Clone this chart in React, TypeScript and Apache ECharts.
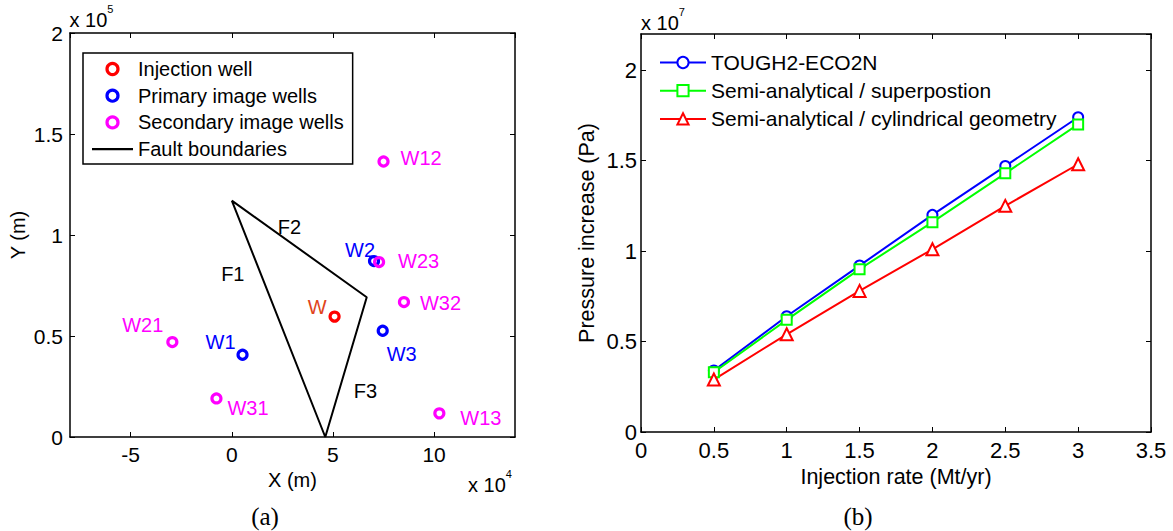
import React, { useEffect, useRef } from 'react';
import * as echarts from 'echarts';

const FONT = '"Liberation Sans", Arial, Helvetica, sans-serif';
const SERIF = '"Liberation Serif", "Times New Roman", serif';

// ---------- Panel (a): x in 1e4 m, y in 1e5 m ----------
const injectionWells: [string, number, number][] = [['W', 5.08, 0.596]];
const primaryImageWells: [string, number, number][] = [
  ['W1', 0.53, 0.407],
  ['W2', 7.03, 0.871],
  ['W3', 7.46, 0.526],
];
const secondaryImageWells: [string, number, number][] = [
  ['W12', 7.5, 1.364],
  ['W13', 10.26, 0.117],
  ['W21', -2.94, 0.47],
  ['W23', 7.28, 0.866],
  ['W31', -0.76, 0.191],
  ['W32', 8.51, 0.668],
];
const faultVertices: [number, number][] = [
  [0, 1.17],
  [6.67, 0.692],
  [4.62, 0],
  [0, 1.17],
];
const faultNames: [string, number, number][] = [
  ['F1', 0.05, 0.807],
  ['F2', 2.85, 1.04],
  ['F3', 6.61, 0.229],
];
const legendA = ['Injection well', 'Primary image wells', 'Secondary image wells', 'Fault boundaries'];

// ---------- Panel (b): pressure in 1e7 Pa ----------
const injectionRates = [0.5, 1, 1.5, 2, 2.5, 3];
const toughPressure = [0.34, 0.64, 0.92, 1.2, 1.47, 1.74];
const superpositionPressure = [0.33, 0.62, 0.9, 1.16, 1.43, 1.7];
const cylindricalPressure = [0.29, 0.54, 0.78, 1.01, 1.25, 1.48];
const legendB = [
  'TOUGH2-ECO2N',
  'Semi-analytical / superpostion',
  'Semi-analytical / cylindrical geometry',
];

// label placement (style only)
const wellLabelPlacement: Record<string, { align: 'left' | 'right'; dx: number; dy: number }> = {
  W: { align: 'right', dx: -8, dy: -10 },
  W1: { align: 'right', dx: -7, dy: -13 },
  W2: { align: 'right', dx: 1, dy: -11 },
  W3: { align: 'left', dx: 4, dy: 23 },
  W12: { align: 'left', dx: 17, dy: -3 },
  W13: { align: 'left', dx: 21, dy: 5 },
  W21: { align: 'right', dx: -9, dy: -17 },
  W23: { align: 'left', dx: 19, dy: -1 },
  W31: { align: 'left', dx: 11, dy: 10 },
  W32: { align: 'left', dx: 16, dy: 1 },
};

const RED = '#ff0000';
const BLUE = '#0000ff';
const MAGENTA = '#ff00ff';
const GREEN = '#00ff00';
const W_TEXT = '#e0441c';

function wellData(list: [string, number, number][], textColor: string) {
  return list.map(([name, x, y]) => {
    const p = wellLabelPlacement[name];
    return {
      name,
      value: [x, y],
      label: {
        show: true,
        formatter: name,
        position: 'inside',
        align: p.align,
        verticalAlign: 'middle',
        offset: [p.dx, p.dy],
        color: textColor,
        fontSize: 20,
        fontFamily: FONT,
      },
    };
  });
}

const ringStyle = (c: string) => ({ color: 'rgba(0,0,0,0)', borderColor: c, borderWidth: 3.2, opacity: 1 });

const axisLine = { show: true, onZero: false, lineStyle: { color: '#000', width: 1.5 } };
const axisTick = { show: true, inside: true, length: 5, lineStyle: { color: '#000', width: 1 } };
const labelTextA = { color: '#000', fontSize: 21, fontFamily: FONT };
const labelTextB = { color: '#000', fontSize: 22, fontFamily: FONT };
const nameTextA = { color: '#000', fontSize: 20, fontFamily: FONT };
const nameTextB = { color: '#000', fontSize: 21.5, fontFamily: FONT };

const supRich = {
  b: { fontSize: 20, fontFamily: FONT, lineHeight: 34, fill: '#000' },
  s: { fontSize: 11, fontFamily: FONT, verticalAlign: 'top', fill: '#000' },
};

function buildOption(): any {
  return {
    animation: false,
    backgroundColor: '#fff',
    grid: [
      { left: 70, top: 33, width: 445, height: 404 },
      { left: 641, top: 34, width: 510, height: 398 },
    ],
    xAxis: [
      {
        gridIndex: 0, type: 'value', min: -8, max: 14, splitNumber: 5, position: 'bottom',
        axisLine, axisTick, splitLine: { show: false },
        axisLabel: { ...labelTextA, margin: 7, showMinLabel: false, showMaxLabel: false },
        name: 'X (m)', nameLocation: 'middle', nameGap: 30, nameTextStyle: nameTextA,
      },
      {
        gridIndex: 0, type: 'value', min: -8, max: 14, splitNumber: 5, position: 'top',
        axisLine, axisTick, splitLine: { show: false }, axisLabel: { show: false },
      },
      {
        gridIndex: 1, type: 'value', min: 0, max: 3.5, interval: 0.5, position: 'bottom',
        axisLine, axisTick, splitLine: { show: false },
        axisLabel: { ...labelTextB, margin: 7 },
        name: 'Injection rate (Mt/yr)', nameLocation: 'middle', nameGap: 32, nameTextStyle: nameTextB,
      },
      {
        gridIndex: 1, type: 'value', min: 0, max: 3.5, interval: 0.5, position: 'top',
        axisLine, axisTick, splitLine: { show: false }, axisLabel: { show: false },
      },
    ],
    yAxis: [
      {
        gridIndex: 0, type: 'value', min: 0, max: 2, interval: 0.5, position: 'left',
        axisLine, axisTick, splitLine: { show: false },
        axisLabel: { ...labelTextA, margin: 7 },
        name: 'Y (m)', nameLocation: 'middle', nameGap: 42, nameTextStyle: nameTextA,
      },
      {
        gridIndex: 0, type: 'value', min: 0, max: 2, interval: 0.5, position: 'right',
        axisLine, axisTick, splitLine: { show: false }, axisLabel: { show: false },
      },
      {
        gridIndex: 1, type: 'value', min: 0, max: 2.2, interval: 0.5, position: 'left',
        axisLine, axisTick, splitLine: { show: false },
        axisLabel: { ...labelTextB, margin: 4, showMaxLabel: false },
        name: 'Pressure increase (Pa)', nameLocation: 'middle', nameGap: 43, nameTextStyle: nameTextB,
      },
      {
        gridIndex: 1, type: 'value', min: 0, max: 2.2, interval: 0.5, position: 'right',
        axisLine, axisTick, splitLine: { show: false }, axisLabel: { show: false },
      },
    ],
    legend: [
      {
        data: legendA.map((n, i) =>
          i < 3
            ? { name: n, itemStyle: ringStyle([RED, BLUE, MAGENTA][i]) }
            : { name: n, icon: 'path://M0,0 L20,0 L20,1 L0,1 Z', itemStyle: { color: '#000' } },
        ),
        orient: 'vertical',
        left: 83,
        top: 53,
        padding: [6, 9, 5, 9],
        borderColor: '#000',
        borderWidth: 1.5,
        backgroundColor: '#fff',
        itemGap: 6.7,
        itemWidth: 41,
        itemHeight: 11,
        textStyle: { color: '#000', fontSize: 20, fontFamily: FONT, lineHeight: 20 },
        selectedMode: false,
      },
      {
        data: legendB,
        orient: 'vertical',
        left: 659,
        top: 52,
        padding: 0,
        itemGap: 7.2,
        itemWidth: 46,
        itemHeight: 14,
        textStyle: { color: '#000', fontSize: 21, fontFamily: FONT, lineHeight: 20 },
        selectedMode: false,
      },
    ],
    series: [
      {
        name: 'Fault boundaries', type: 'line', xAxisIndex: 0, yAxisIndex: 0,
        data: faultVertices, symbol: 'none', silent: true,
        lineStyle: { color: '#000', width: 2 }, itemStyle: { color: '#000' },
      },
      {
        name: 'Fault labels', type: 'scatter', xAxisIndex: 0, yAxisIndex: 0, silent: true,
        symbolSize: 1, itemStyle: { color: 'rgba(0,0,0,0)', opacity: 1 },
        data: faultNames.map(([n, x, y]) => ({
          name: n, value: [x, y],
          label: { show: true, formatter: n, position: 'inside', color: '#000', fontSize: 20, fontFamily: FONT },
        })),
      },
      {
        name: 'Injection well', type: 'scatter', xAxisIndex: 0, yAxisIndex: 0, silent: true,
        symbol: 'circle', symbolSize: 9, itemStyle: ringStyle(RED),
        data: wellData(injectionWells, W_TEXT),
      },
      {
        name: 'Primary image wells', type: 'scatter', xAxisIndex: 0, yAxisIndex: 0, silent: true,
        symbol: 'circle', symbolSize: 9, itemStyle: ringStyle(BLUE),
        data: wellData(primaryImageWells, BLUE),
      },
      {
        name: 'Secondary image wells', type: 'scatter', xAxisIndex: 0, yAxisIndex: 0, silent: true,
        symbol: 'circle', symbolSize: 9, itemStyle: ringStyle(MAGENTA),
        data: wellData(secondaryImageWells, MAGENTA),
      },
      {
        name: legendB[0], type: 'line', xAxisIndex: 2, yAxisIndex: 2, silent: true,
        data: injectionRates.map((x, i) => [x, toughPressure[i]]),
        symbol: 'emptyCircle', symbolSize: 10, showAllSymbol: true,
        lineStyle: { color: BLUE, width: 2 }, itemStyle: { color: BLUE, borderWidth: 1.5 },
      },
      {
        name: legendB[1], type: 'line', xAxisIndex: 2, yAxisIndex: 2, silent: true,
        data: injectionRates.map((x, i) => [x, superpositionPressure[i]]),
        symbol: 'emptyRect', symbolSize: 10, showAllSymbol: true,
        lineStyle: { color: GREEN, width: 2 }, itemStyle: { color: GREEN, borderWidth: 1.5 },
      },
      {
        name: legendB[2], type: 'line', xAxisIndex: 2, yAxisIndex: 2, silent: true,
        data: injectionRates.map((x, i) => [x, cylindricalPressure[i]]),
        symbol: 'emptyTriangle', symbolSize: 12, showAllSymbol: true,
        lineStyle: { color: RED, width: 2 }, itemStyle: { color: RED, borderWidth: 1.5 },
      },
    ],
    graphic: [
      {
        type: 'text', x: 69.5, y: 3,
        style: { text: '{b|x 10}{s|5}', verticalAlign: 'top', align: 'left', rich: supRich },
      },
      {
        type: 'text', x: 468, y: 468,
        style: { text: '{b|x 10}{s|4}', verticalAlign: 'top', align: 'left', rich: supRich },
      },
      {
        type: 'text', x: 641, y: 6,
        style: { text: '{b|x 10}{s|7}', verticalAlign: 'top', align: 'left', rich: supRich },
      },
      {
        type: 'text', x: 265, y: 516,
        style: { text: '(a)', font: `25px ${SERIF}`, align: 'center', verticalAlign: 'middle', fill: '#000' },
      },
      {
        type: 'text', x: 858, y: 516,
        style: { text: '(b)', font: `25px ${SERIF}`, align: 'center', verticalAlign: 'middle', fill: '#000' },
      },
    ],
  };
}

export default function App() {
  const ref = useRef<HTMLDivElement>(null);
  useEffect(() => {
    if (!ref.current) return;
    const chart = echarts.init(ref.current, undefined, { renderer: 'svg' });
    chart.setOption(buildOption());
    return () => chart.dispose();
  }, []);
  return (
    <div
      ref={ref}
      style={{ position: 'fixed', left: 0, top: 0, width: 1173, height: 531, background: '#fff' }}
    />
  );
}
